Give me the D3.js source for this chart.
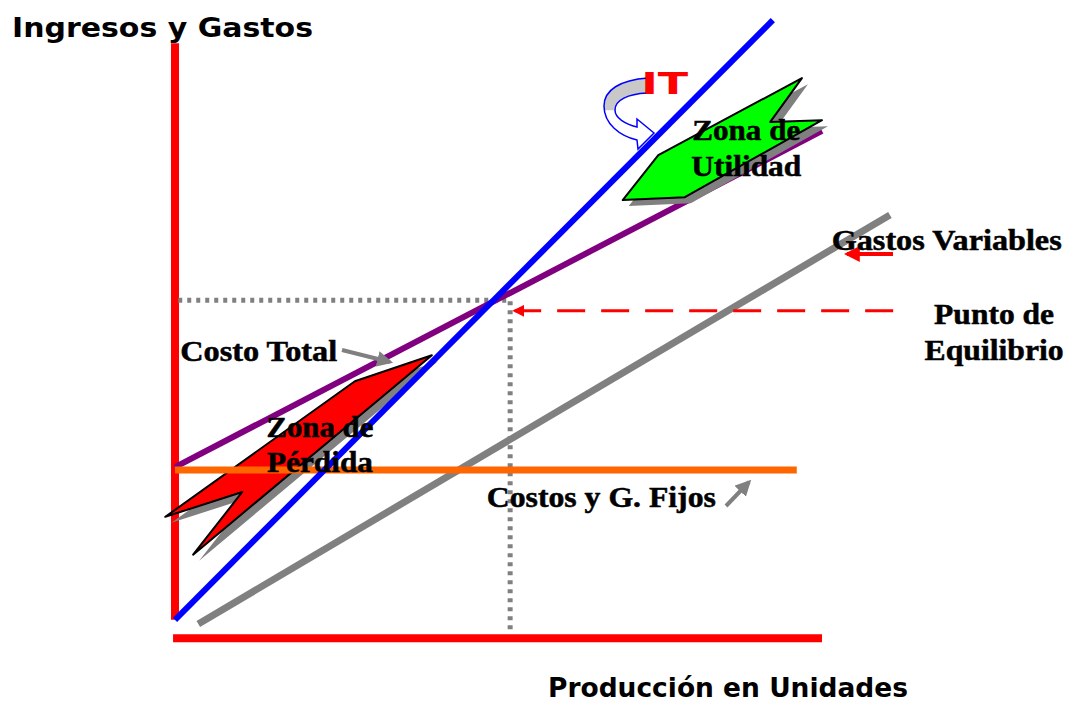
<!DOCTYPE html>
<html>
<head>
<meta charset="utf-8">
<script src="https://cdn.jsdelivr.net/npm/d3@7"></script>
<style>
  body { margin: 0; background: #fff; }
  .lbl { font-family: "Liberation Serif", "Times New Roman", serif; font-weight: bold; font-size: 29px; fill: #000; stroke: #000; stroke-width: 0.5px; }
  .ttl { font-family: "Comic Sans MS", "DejaVu Sans", sans-serif; font-weight: bold; font-size: 27px; fill: #000; }
</style>
</head>
<body>
<script>
// units: production 0..100 (x), money 0..100 (y)
var ingresoTotal   = [[0, 2.9], [92.4, 104.2]];
var costoTotal     = [[0, 28.7], [100, 85.5]];
var gastosVar      = [[3.6, 2.2], [110.5, 71.3]];
var costosFijos    = [[0, 28.2], [96.1, 28.2]];
var equilibrio     = [51.8, 56.9];
var zonaPerdida    = [[-1.5, 20.3], [27.8, 43.2], [39.7, 47.6], [2.8, 13.9], [10.4, 24.5]];
var zonaUtilidad   = [[69.2, 73.8], [74.7, 81.4], [96.9, 94.4], [92.0, 87.0], [100, 87.3], [78.8, 74.3]];

var w = 1072, h = 704;
var svg = d3.select("body").append("svg").attr("width", w).attr("height", h);

var x = d3.scaleLinear().domain([0, 100]).range([175, 822]);
var y = d3.scaleLinear().domain([0, 100]).range([637, 45]);

var line = d3.line().x(function(d) { return x(d[0]); }).y(function(d) { return y(d[1]); });

var defs = svg.append("defs");
function marker(id, color) {
  defs.append("marker")
    .attr("id", id).attr("viewBox", "0 0 10 10")
    .attr("refX", 8).attr("refY", 5)
    .attr("markerWidth", 4).attr("markerHeight", 4)
    .attr("orient", "auto")
    .append("path").attr("d", "M0,0 L10,5 L0,10 z").attr("fill", color);
}
marker("arrGray", "#808080");
marker("arrRed", "#ff0000");

var grad = defs.append("linearGradient").attr("id", "itGrad")
  .attr("x1", 0).attr("y1", 0).attr("x2", 0).attr("y2", 1);
grad.append("stop").attr("offset", "0.45").attr("stop-color", "#c8c8c8");
grad.append("stop").attr("offset", "0.46").attr("stop-color", "#ffffff");

//axes
svg.append("line")
  .attr("x1", x(0)).attr("x2", x(0)).attr("y1", y(100.3)).attr("y2", y(2.9))
  .attr("stroke", "#ff0000").attr("stroke-width", 8);
svg.append("line")
  .attr("x1", x(-0.3)).attr("x2", x(100)).attr("y1", y(-0.2)).attr("y2", y(-0.2))
  .attr("stroke", "#ff0000").attr("stroke-width", 8);

//gastos variables
svg.append("path").attr("d", line(gastosVar))
  .attr("stroke", "#808080").attr("stroke-width", 7).attr("fill", "none");

//dotted break-even guides
svg.append("path").attr("d", line([[0.5, equilibrio[1]], equilibrio, [equilibrio[0], 0.8]]))
  .attr("stroke", "#808080").attr("stroke-width", 5).attr("fill", "none")
  .attr("stroke-dasharray", "4,5");

//red dashed arrow
svg.append("line")
  .attr("x1", x(111)).attr("x2", x(52.5))
  .attr("y1", y(55.1)).attr("y2", y(55.1))
  .attr("stroke", "#ff0000").attr("stroke-width", 3)
  .attr("stroke-dasharray", "28,16")
  .attr("marker-end", "url(#arrRed)");

//costo total
svg.append("path").attr("d", line(costoTotal))
  .attr("stroke", "#800080").attr("stroke-width", 6).attr("fill", "none");

//zona de perdida
svg.append("path").attr("d", line(zonaPerdida) + "Z")
  .attr("transform", "translate(6,6)")
  .attr("fill", "#808080");
svg.append("path").attr("d", line(zonaPerdida) + "Z")
  .attr("fill", "#ff0000").attr("stroke", "#000").attr("stroke-width", 2)
  .attr("stroke-linejoin", "round");

//zona de utilidad
svg.append("path").attr("d", line(zonaUtilidad) + "Z")
  .attr("transform", "translate(6,6)")
  .attr("fill", "#808080");
svg.append("path").attr("d", line(zonaUtilidad) + "Z")
  .attr("fill", "#00ff00").attr("stroke", "#000").attr("stroke-width", 2)
  .attr("stroke-linejoin", "round");

//costos fijos
svg.append("path").attr("d", line(costosFijos))
  .attr("stroke", "#ff6600").attr("stroke-width", 7).attr("fill", "none");

//ingreso total
svg.append("path").attr("d", line(ingresoTotal))
  .attr("stroke", "#0000ff").attr("stroke-width", 6).attr("fill", "none");

//IT curved arrow
var itArrow = "M648,78 C620,80 604,90 604,106 C604,124 620,136 637,140 L638,149 L654,133 L637,119 L637,127 C625,124 615,118 615,110 C615,100 628,94 647,93 Z";
svg.append("path").attr("d", itArrow)
  .attr("fill", "url(#itGrad)").attr("stroke", "#0000ff").attr("stroke-width", 1.5);

svg.append("text")
  .attr("x", x(75.7)).attr("y", y(91.7))
  .attr("text-anchor", "middle")
  .attr("class", "ttl")
  .style("fill", "#ff0000").style("font-size", "30px")
  .attr("textLength", 47).attr("lengthAdjust", "spacingAndGlyphs")
  .text("IT");

//small pointer arrows
svg.append("line")
  .attr("x1", 342).attr("y1", 350).attr("x2", 390).attr("y2", 362)
  .attr("stroke", "#808080").attr("stroke-width", 4).attr("marker-end", "url(#arrGray)");
svg.append("line")
  .attr("x1", 726).attr("y1", 506).attr("x2", 749).attr("y2", 482)
  .attr("stroke", "#808080").attr("stroke-width", 4).attr("marker-end", "url(#arrGray)");
svg.append("line")
  .attr("x1", 893).attr("y1", 254).attr("x2", 847).attr("y2", 254)
  .attr("stroke", "#ff0000").attr("stroke-width", 4).attr("marker-end", "url(#arrRed)");

//labels
var labels = [
  { t: "Costo Total", x: 0.8, y: 46.6, a: "start", len: 157 },
  { t: "Zona de", x: 22.4, y: 33.8, a: "middle", len: 107 },
  { t: "Pérdida", x: 22.4, y: 27.9, a: "middle", len: 106 },
  { t: "Zona de", x: 88.3, y: 84.0, a: "middle", len: 108 },
  { t: "Utilidad", x: 88.3, y: 77.9, a: "middle", len: 110 },
  { t: "Gastos Variables", x: 101.5, y: 65.4, a: "start", len: 230 },
  { t: "Punto de", x: 126.6, y: 52.9, a: "middle", len: 120 },
  { t: "Equilibrio", x: 126.6, y: 46.8, a: "middle", len: 139 },
  { t: "Costos y G. Fijos", x: 48.2, y: 22.0, a: "start", len: 229 }
];
svg.selectAll("text.lbl")
  .data(labels)
  .enter()
  .append("text")
  .attr("class", "lbl")
  .attr("x", function(d) { return x(d.x); })
  .attr("y", function(d) { return y(d.y); })
  .attr("text-anchor", function(d) { return d.a; })
  .attr("textLength", function(d) { return d.len; })
  .attr("lengthAdjust", "spacingAndGlyphs")
  .text(function(d) { return d.t; });

//titles
svg.append("text").attr("class", "ttl")
  .attr("x", 12).attr("y", 37)
  .attr("textLength", 301).attr("lengthAdjust", "spacingAndGlyphs")
  .text("Ingresos y Gastos");
svg.append("text").attr("class", "ttl")
  .attr("x", 548).attr("y", 697)
  .attr("textLength", 360).attr("lengthAdjust", "spacingAndGlyphs")
  .text("Producción en Unidades");
</script>
</body>
</html>
